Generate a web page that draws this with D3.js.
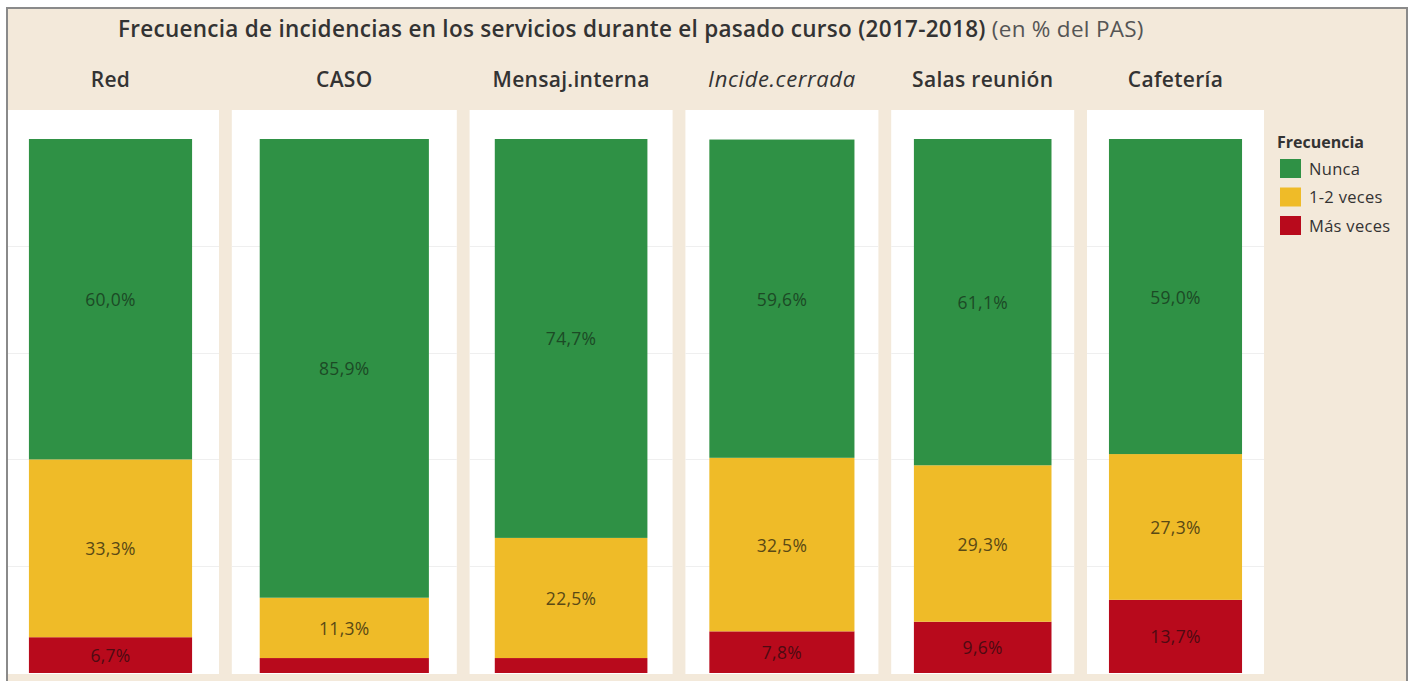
<html>
<head>
<meta charset="utf-8">
<title>Frecuencia de incidencias</title>
<style>
body { margin: 0; background: #fff; }
svg { font-family: "Open Sans", "Noto Sans", sans-serif; display: block; }
.panel { fill: #fff; }
.grid line { stroke: #efefef; stroke-width: 1px; }
.hdr { font-size: 21px; font-weight: 600; fill: #333; text-anchor: middle; letter-spacing: 0.3px; }
.lbl { font-size: 17.5px; text-anchor: middle; dominant-baseline: central; letter-spacing: 0.3px; }
</style>
</head>
<body>
<script src="https://cdnjs.cloudflare.com/ajax/libs/d3/7.8.5/d3.min.js"></script>
<script>
// data
var categories = ["Red", "CASO", "Mensaj.interna", "Incide.cerrada", "Salas reunión", "Cafetería"];
var nunca     = [60.0, 85.9, 74.7, 59.6, 61.1, 59.0];
var veces12   = [33.3, 11.3, 22.5, 32.5, 29.3, 27.3];
var masVeces  = [6.7, 2.8, 2.8, 7.8, 9.6, 13.7];
var seriesNames = ["Nunca", "1-2 veces", "Más veces"];
var gridTicks = [0, 20, 40, 60, 80, 100];

// layout (panel widths differ in the original)
var W = 1410, H = 681;
var panelW = [217, 225, 203, 193, 183, 177],
    panelGap = 12.8,
    panelX0 = 2,
    panelTop = 110, panelBottom = 673,
    barTop = 139;

var colors = d3.scaleOrdinal()
    .domain(seriesNames)
    .range(["#2f9145", "#efbb28", "#b80a1c"]);
var textColors = d3.scaleOrdinal()
    .domain(seriesNames)
    .range(["#1c4a25", "#5a4915", "#4e0a12"]);

var loc = d3.formatLocale({decimal: ",", thousands: ".", grouping: [3], currency: ["", "€"]});
var fmt = function(v) { return loc.format(".1f")(v) + "%"; };

var rows = categories.map(function(c, i) {
  return {cat: c, "Nunca": nunca[i], "1-2 veces": veces12[i], "Más veces": masVeces[i]};
});

// panel x positions
var starts = [];
panelW.reduce(function(x, w) { starts.push(x); return x + w + panelGap; }, panelX0);
var panelScale = d3.scaleOrdinal().domain(categories).range(starts);
var widthScale = d3.scaleOrdinal().domain(categories).range(panelW);

var y = d3.scaleLinear().domain([0, 100]).range([panelBottom, barTop]);

var stack = d3.stack().keys(seriesNames.slice().reverse());
var stacked = stack(rows);

var svg = d3.select("body").append("svg")
    .attr("width", W)
    .attr("height", H);

svg.append("clipPath").attr("id", "frame")
  .append("rect")
    .attr("x", 7).attr("y", 8).attr("width", 1400).attr("height", 690);

// background
svg.append("rect")
    .attr("x", 7).attr("y", 8).attr("width", 1400).attr("height", 690)
    .attr("fill", "#f3e9da");

var chart = svg.append("g").attr("clip-path", "url(#frame)");

// title
var title = chart.append("text")
    .attr("x", 118).attr("y", 37)
    .style("font-size", "22.5px")
    .style("letter-spacing", "0.28px");
title.append("tspan").attr("font-weight", 600).attr("fill", "#333")
    .text("Frecuencia de incidencias en los servicios durante el pasado curso (2017-2018) ");
title.append("tspan").attr("fill", "#555")
    .text("(en % del PAS)");

// panels
var panels = chart.selectAll("g.cat")
  .data(categories)
  .join("g")
    .attr("class", "cat")
    .attr("transform", function(d) { return "translate(" + panelScale(d) + ",0)"; });

panels.append("rect")
    .attr("class", "panel")
    .attr("x", 0)
    .attr("y", panelTop)
    .attr("width", function(d) { return widthScale(d); })
    .attr("height", panelBottom - panelTop + 1);

panels.append("g")
    .attr("class", "grid")
    .each(function(d) {
      d3.select(this).selectAll("line")
        .data(gridTicks.slice(1, -1))
        .join("line")
          .attr("x1", 0).attr("x2", widthScale(d))
          .attr("y1", function(t) { return Math.round(y(t)) + 0.5; })
          .attr("y2", function(t) { return Math.round(y(t)) + 0.5; });
    });

panels.append("text")
    .attr("class", "hdr")
    .attr("x", function(d) { return widthScale(d) / 2; })
    .attr("y", 87)
    .style("font-style", function(d) { return d === "Incide.cerrada" ? "italic" : null; })
    .style("font-weight", function(d) { return d === "Incide.cerrada" ? 400 : null; })
    .style("font-size", function(d) { return d === "Incide.cerrada" ? "22px" : null; })
    .style("letter-spacing", function(d) { return d === "Incide.cerrada" ? "0.6px" : null; })
    .text(function(d) { return d; });

// bars
function bandFor(cat) {
  return d3.scaleBand().domain([cat]).range([0, widthScale(cat)]).paddingOuter(0.165);
}

stacked.forEach(function(layer) {
  var key = layer.key;
  layer.forEach(function(seg) {
    var cat = seg.data.cat;
    var g = panels.filter(function(d) { return d === cat; });
    var xb = bandFor(cat);
    g.append("rect")
        .attr("x", xb(cat))
        .attr("width", xb.bandwidth())
        .attr("y", y(seg[1]))
        .attr("height", y(seg[0]) - y(seg[1]))
        .attr("fill", colors(key));
    if (seg.data[key] >= 5) {
      g.append("text")
          .attr("class", "lbl")
          .attr("x", xb(cat) + xb.bandwidth() / 2)
          .attr("y", (y(seg[0]) + y(seg[1])) / 2)
          .attr("fill", textColors(key))
          .text(fmt(seg.data[key]));
    }
  });
});

// legend
var legend = chart.append("g").attr("transform", "translate(1277,0)");
legend.append("text")
    .attr("x", 0).attr("y", 148)
    .style("font-size", "16px").style("font-weight", 700).attr("fill", "#333")
    .text("Frecuencia");
var items = legend.selectAll("g.item")
  .data(seriesNames)
  .join("g")
    .attr("class", "item")
    .attr("transform", function(d, i) { return "translate(3," + (159 + i * 28.5) + ")"; });
items.append("rect")
    .attr("width", 21).attr("height", 19)
    .attr("fill", function(d) { return colors(d); });
items.append("text")
    .attr("x", 29).attr("y", 15.5)
    .style("font-size", "16.5px").style("letter-spacing", "0.3px").attr("fill", "#333")
    .text(function(d) { return d; });

// frame line on top
svg.append("rect")
    .attr("x", 7).attr("y", 8).attr("width", 1400).attr("height", 690)
    .attr("fill", "none")
    .attr("stroke", "#8a8a8a").attr("stroke-width", 2);
</script>
</body>
</html>
